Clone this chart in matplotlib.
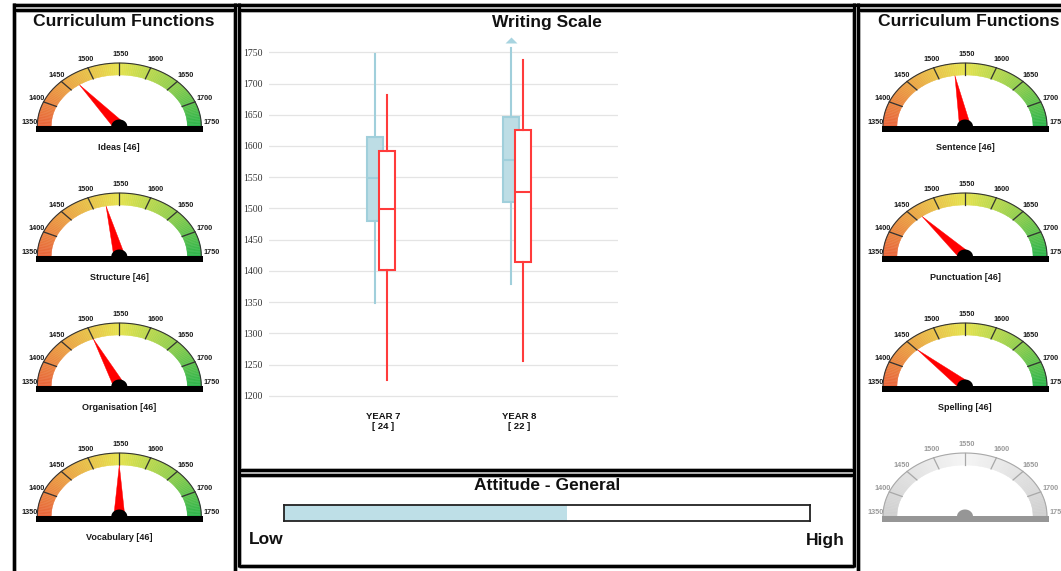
import numpy as np
import matplotlib
matplotlib.use("Agg")
import matplotlib.pyplot as plt
from matplotlib.patches import Polygon, Rectangle
from matplotlib.colors import LinearSegmentedColormap

plt.rcParams['font.family'] = ['Liberation Sans', 'DejaVu Sans']

# ---------------- data ----------------
panel_title = "Curriculum Functions"
scale_ticks = [1350, 1400, 1450, 1500, 1550, 1600, 1650, 1700, 1750]

left_labels = ["Ideas [46]", "Structure [46]", "Organisation [46]", "Vocabulary [46]"]
left_values = [1470, 1525, 1500, 1550]
right_labels = ["Sentence [46]", "Punctuation [46]", "Spelling [46]", ""]
right_values = [1531, 1463, 1451, None]

box_title = "Writing Scale"
box_categories = ["YEAR 7\n[ 24 ]", "YEAR 8\n[ 22 ]"]
box_ticks = [1200, 1250, 1300, 1350, 1400, 1450, 1500, 1550, 1600, 1650, 1700, 1750]
blue_low = [1348, 1379]
blue_q1 = [1480, 1510]
blue_med = [1548, 1577]
blue_q3 = [1615, 1647]
blue_high = [1747, 1757]
blue_outliers = [[], [1770]]
red_low = [1225, 1256]
red_q1 = [1401, 1414]
red_med = [1499, 1527]
red_q3 = [1592, 1626]
red_high = [1682, 1737]

attitude_title = "Attitude - General"
attitude_value = 0.538
attitude_ends = ["Low", "High"]

# ---------------- figure ----------------
W, H = 1061, 571
PX = 0.72
fig = plt.figure(figsize=(W / 100, H / 100), dpi=100)
ov = fig.add_axes([0, 0, 1, 1])
ov.set_xlim(0, W)
ov.set_ylim(H, 0)
ov.axis('off')


def frame_line(x0, y0, x1, y1):
    ov.plot([x0, x1], [y0, y1], color='#9a9a9a', lw=4.6 * PX, solid_capstyle='butt', zorder=5)
    ov.plot([x0, x1], [y0, y1], color='black', lw=3 * PX, solid_capstyle='butt', zorder=6)


# frames
frame_line(13, 4.5, W, 4.5)
frame_line(14, 3, 14, H)
frame_line(234.5, 3, 234.5, H)
frame_line(14, 9.5, 234.5, 9.5)
frame_line(238.5, 3, 238.5, 567)
frame_line(853.8, 3, 853.8, 567)
frame_line(238.5, 9.5, 853.8, 9.5)
frame_line(238.5, 469.5, 853.8, 469.5)
frame_line(238.5, 474.5, 853.8, 474.5)
frame_line(238.5, 566, 853.8, 566)
frame_line(857.5, 3, 857.5, H)
frame_line(857.5, 9.5, W, 9.5)

gauge_cmap = LinearSegmentedColormap.from_list(
    'g', [(0, '#e8643a'), (0.25, '#eba444'), (0.5, '#e6e34e'), (0.75, '#92cf4e'), (1, '#2db54b')])
grey_cmap = LinearSegmentedColormap.from_list(
    'gr', [(0, '#cfcfcf'), (0.5, '#f5f5f5'), (1, '#cfcfcf')])

VMIN, VMAX = scale_ticks[0], scale_ticks[-1]


def ang(v):
    return np.pi * (1 - (v - VMIN) / (VMAX - VMIN))


def draw_gauge(cx, cy, value, label, active=True):
    rxo, ryo, rxi, ryi = 82, 63, 68, 51
    cmap = gauge_cmap if active else grey_cmap
    edge = '#333333' if active else '#a8a8a8'
    tcol = '#1a1a1a' if active else '#9a9a9a'
    base = 'black' if active else '#969696'
    N = 120
    for k in range(N):
        t0 = np.pi * (1 - k / N)
        t1 = np.pi * (1 - (k + 1) / N)
        pts = [(cx + rxo * np.cos(t0), cy - ryo * np.sin(t0)),
               (cx + rxo * np.cos(t1), cy - ryo * np.sin(t1)),
               (cx + rxi * np.cos(t1), cy - ryi * np.sin(t1)),
               (cx + rxi * np.cos(t0), cy - ryi * np.sin(t0))]
        c = cmap((k + 0.5) / N)
        ov.add_patch(Polygon(pts, closed=True, facecolor=c, edgecolor=c, lw=0.3, zorder=2))
    tt = np.linspace(0, np.pi, 200)
    ov.plot(cx + rxo * np.cos(tt), cy - ryo * np.sin(tt), color=edge, lw=0.8, zorder=3)
    for v in scale_ticks[1:-1]:
        t = ang(v)
        ov.plot([cx + rxi * np.cos(t), cx + rxo * np.cos(t)],
                [cy - ryi * np.sin(t), cy - ryo * np.sin(t)], color=edge, lw=0.9, zorder=3)
    for v in scale_ticks:
        t = ang(v)
        lx = cx + 1.5 + 91 * np.cos(t)
        ly = cy - 71.5 * np.sin(t)
        if v in (VMIN, VMAX):
            ly = cy - 3
        ov.text(lx, ly, str(v), ha='center', va='center', fontsize=5.2,
                fontweight='bold', color=tcol, zorder=4)
    if value is not None:
        t = ang(value)
        tip = np.array([cx + rxi * np.cos(t), cy - ryi * np.sin(t)])
        c0 = np.array([cx, cy])
        d = tip - c0
        d = d / np.hypot(*d)
        perp = np.array([-d[1], d[0]])
        ov.add_patch(Polygon([c0 + 5.5 * perp, tip, c0 - 5.5 * perp], closed=True,
                             facecolor='#ff0000', edgecolor='#ff0000', lw=0.3, zorder=4))
    ov.add_patch(Rectangle((cx - 83.3, cy), 167, 6, facecolor=base, edgecolor='none', zorder=5))
    th = np.linspace(0, np.pi, 60)
    hub = np.column_stack([cx + 8 * np.cos(th), cy + 0.5 - 7 * np.sin(th)])
    ov.add_patch(Polygon(hub, closed=True, facecolor=base, edgecolor='none', zorder=5))
    if label:
        ov.text(cx, cy + 21, label, ha='center', va='center', fontsize=6.5,
                fontweight='bold', color='#1a1a1a', zorder=4)


gauge_rows = [126, 256, 386, 516]
for cy, lab, val in zip(gauge_rows, left_labels, left_values):
    draw_gauge(119.3, cy, val, lab, True)
for cy, lab, val in zip(gauge_rows, right_labels, right_values):
    draw_gauge(965, cy, val, lab, val is not None)

ov.text(124, 21, panel_title, ha='center', va='center', fontsize=12.6, fontweight='bold', color='#111')
ov.text(968.5, 21, panel_title, ha='center', va='center', fontsize=12.6, fontweight='bold', color='#111')
ov.text(546.5, 22, box_title, ha='center', va='center', fontsize=12.5, fontweight='bold', color='#111')
ov.text(547, 485, attitude_title, ha='center', va='center', fontsize=12.5, fontweight='bold', color='#111')
ov.text(266, 540, attitude_ends[0], ha='center', va='center', fontsize=12.5, fontweight='bold', color='#111')
ov.text(825.5, 540, attitude_ends[1], ha='center', va='center', fontsize=12.5, fontweight='bold', color='#111')

# ---------------- box plot ----------------
ppu = 0.6244
y_top_px = 52.3 - 50 * ppu
y_bot_px = 52.3 + 600 * ppu
ax = fig.add_axes([269 / W, (H - y_bot_px) / H, (618 - 269) / W, (y_bot_px - y_top_px) / H])
ax.set_facecolor('none')
ax.set_ylim(1150, 1800)
unit = 136.0
ax.set_xlim(-112 / unit, (618 - 381) / unit)
pos = np.arange(len(box_categories))
off = 6 / unit
bw = 16 / unit


def stats(lo, q1, med, q3, hi, fl):
    return [dict(whislo=a, q1=b, med=c, q3=d, whishi=e, fliers=f)
            for a, b, c, d, e, f in zip(lo, q1, med, q3, hi, fl)]


tri = [(-1, -0.5), (1, -0.5), (0, 0.5), (-1, -0.5)]
bcol = '#a0cfdb'
ax.bxp(stats(blue_low, blue_q1, blue_med, blue_q3, blue_high, blue_outliers),
       positions=pos - off, widths=bw, patch_artist=True, showcaps=False,
       boxprops=dict(facecolor='#bddde5', edgecolor=bcol, linewidth=1.5),
       whiskerprops=dict(color=bcol, linewidth=1.5),
       medianprops=dict(color=bcol, linewidth=1.5),
       flierprops=dict(marker=tri, markersize=8.6, markerfacecolor='#a8d4e0',
                       markeredgecolor='none'), zorder=3)
rcol = '#ff3b3b'
ax.bxp(stats(red_low, red_q1, red_med, red_q3, red_high, [[], []]),
       positions=pos + off, widths=bw, patch_artist=True, showcaps=False,
       boxprops=dict(facecolor='white', edgecolor=rcol, linewidth=1.5),
       whiskerprops=dict(color=rcol, linewidth=1.5),
       medianprops=dict(color=rcol, linewidth=1.5), zorder=4)

ax.set_yticks(box_ticks)
ax.set_yticklabels([str(v) for v in box_ticks], fontfamily='Liberation Serif', fontsize=7, color='#333')
ax.tick_params(axis='y', length=0, pad=4.3)
ax.set_xticks([])
ax.yaxis.grid(True, color='#e4e4e4', lw=0.9)
ax.set_axisbelow(True)
for s in ax.spines.values():
    s.set_visible(False)
for p, lab in zip(pos, box_categories):
    ax.text(p + 2 / unit, 1158.7, lab, ha='center', va='center', fontsize=6.8,
            fontweight='bold', color='#111', linespacing=1.2)

# ---------------- attitude bar ----------------
bx = fig.add_axes([284 / W, (H - 521) / H, 526 / W, 16 / H])
bx.set_xlim(0, 1)
bx.set_ylim(0, 1)
bx.barh(0.5, attitude_value, height=1, color='#bedfe7', edgecolor='none')
bx.set_xticks([])
bx.set_yticks([])
for s in bx.spines.values():
    s.set_linewidth(1.3)
    s.set_color('#222')

fig.savefig('out.png', dpi=100)
